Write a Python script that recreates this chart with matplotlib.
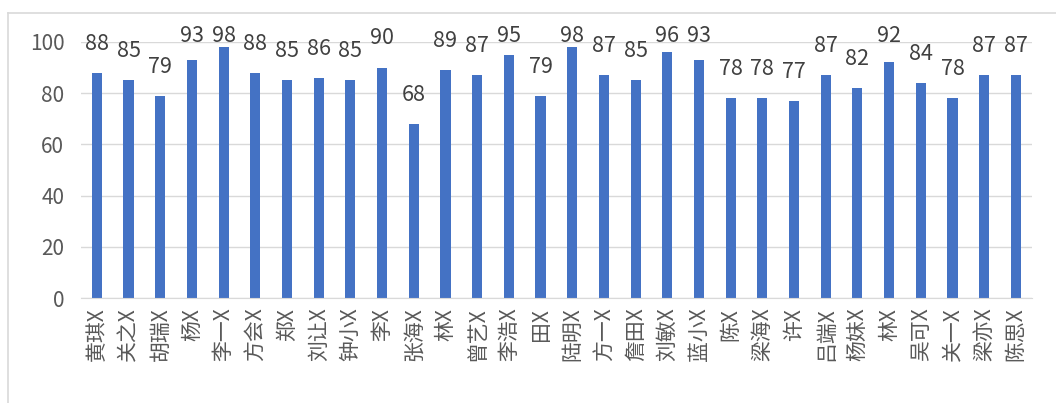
import numpy as np
import matplotlib.pyplot as plt
from matplotlib.lines import Line2D

plt.rcParams['font.family'] = ['Noto Sans CJK SC', 'DejaVu Sans']

names = ['黄琪X', '关之X', '胡瑞X', '杨X', '李一X', '方会X', '郑X', '刘让X', '钟小X', '李X',
         '张海X', '林X', '曾艺X', '李浩X', '田X', '陆明X', '方一X', '詹田X', '刘敏X', '蓝小X',
         '陈X', '梁海X', '许X', '吕端X', '杨妹X', '林X', '吴可X', '关一X', '梁亦X', '陈思X']
scores = [88, 85, 79, 93, 98, 88, 85, 86, 85, 90,
          68, 89, 87, 95, 79, 98, 87, 85, 96, 93,
          78, 78, 77, 87, 82, 92, 84, 78, 87, 87]
yticks = [0, 20, 40, 60, 80, 100]

fig = plt.figure(figsize=(10.56, 4.03), dpi=100)
ax = fig.add_axes([0.0767, 0.2605, 0.9003, 0.6355])

x = np.arange(len(names))
ax.bar(x, scores, width=0.32, color='#4472C4', zorder=3)

# data labels sit above the bars, pushed down when they would leave the chart
for xi, v in zip(x, scores):
    ax.text(xi, min(v + 9, 99.8), str(v), ha='center', va='baseline',
            fontsize=15.5, color='#404040', fontweight='light', clip_on=False)

ax.set_xlim(-0.5, len(names) - 0.5)
ax.set_ylim(0, 100)
ax.set_yticks(yticks)
ax.set_yticklabels([str(t) for t in yticks], fontsize=15, color='#595959',
                   fontweight='light')
ax.set_xticks(x)
ax.set_xticklabels(names, rotation=90, fontsize=15, color='#595959',
                   fontweight='light')
ax.tick_params(axis='y', length=0, pad=12)
ax.tick_params(axis='x', length=0, pad=7)

ax.grid(axis='y', color='#D9D9D9', linewidth=1, zorder=0)
for s in ['top', 'right', 'left']:
    ax.spines[s].set_visible(False)
ax.spines['bottom'].set_color('#D9D9D9')
ax.spines['bottom'].set_zorder(4)

# outer chart border (top and left visible)
fig.add_artist(Line2D([8 / 1056, 1.0], [1 - 13 / 403, 1 - 13 / 403],
                      color='#D9D9D9', linewidth=1.2, transform=fig.transFigure))
fig.add_artist(Line2D([8 / 1056, 8 / 1056], [0, 1 - 13 / 403],
                      color='#D9D9D9', linewidth=1.2, transform=fig.transFigure))

fig.savefig('out.png', dpi=100)
